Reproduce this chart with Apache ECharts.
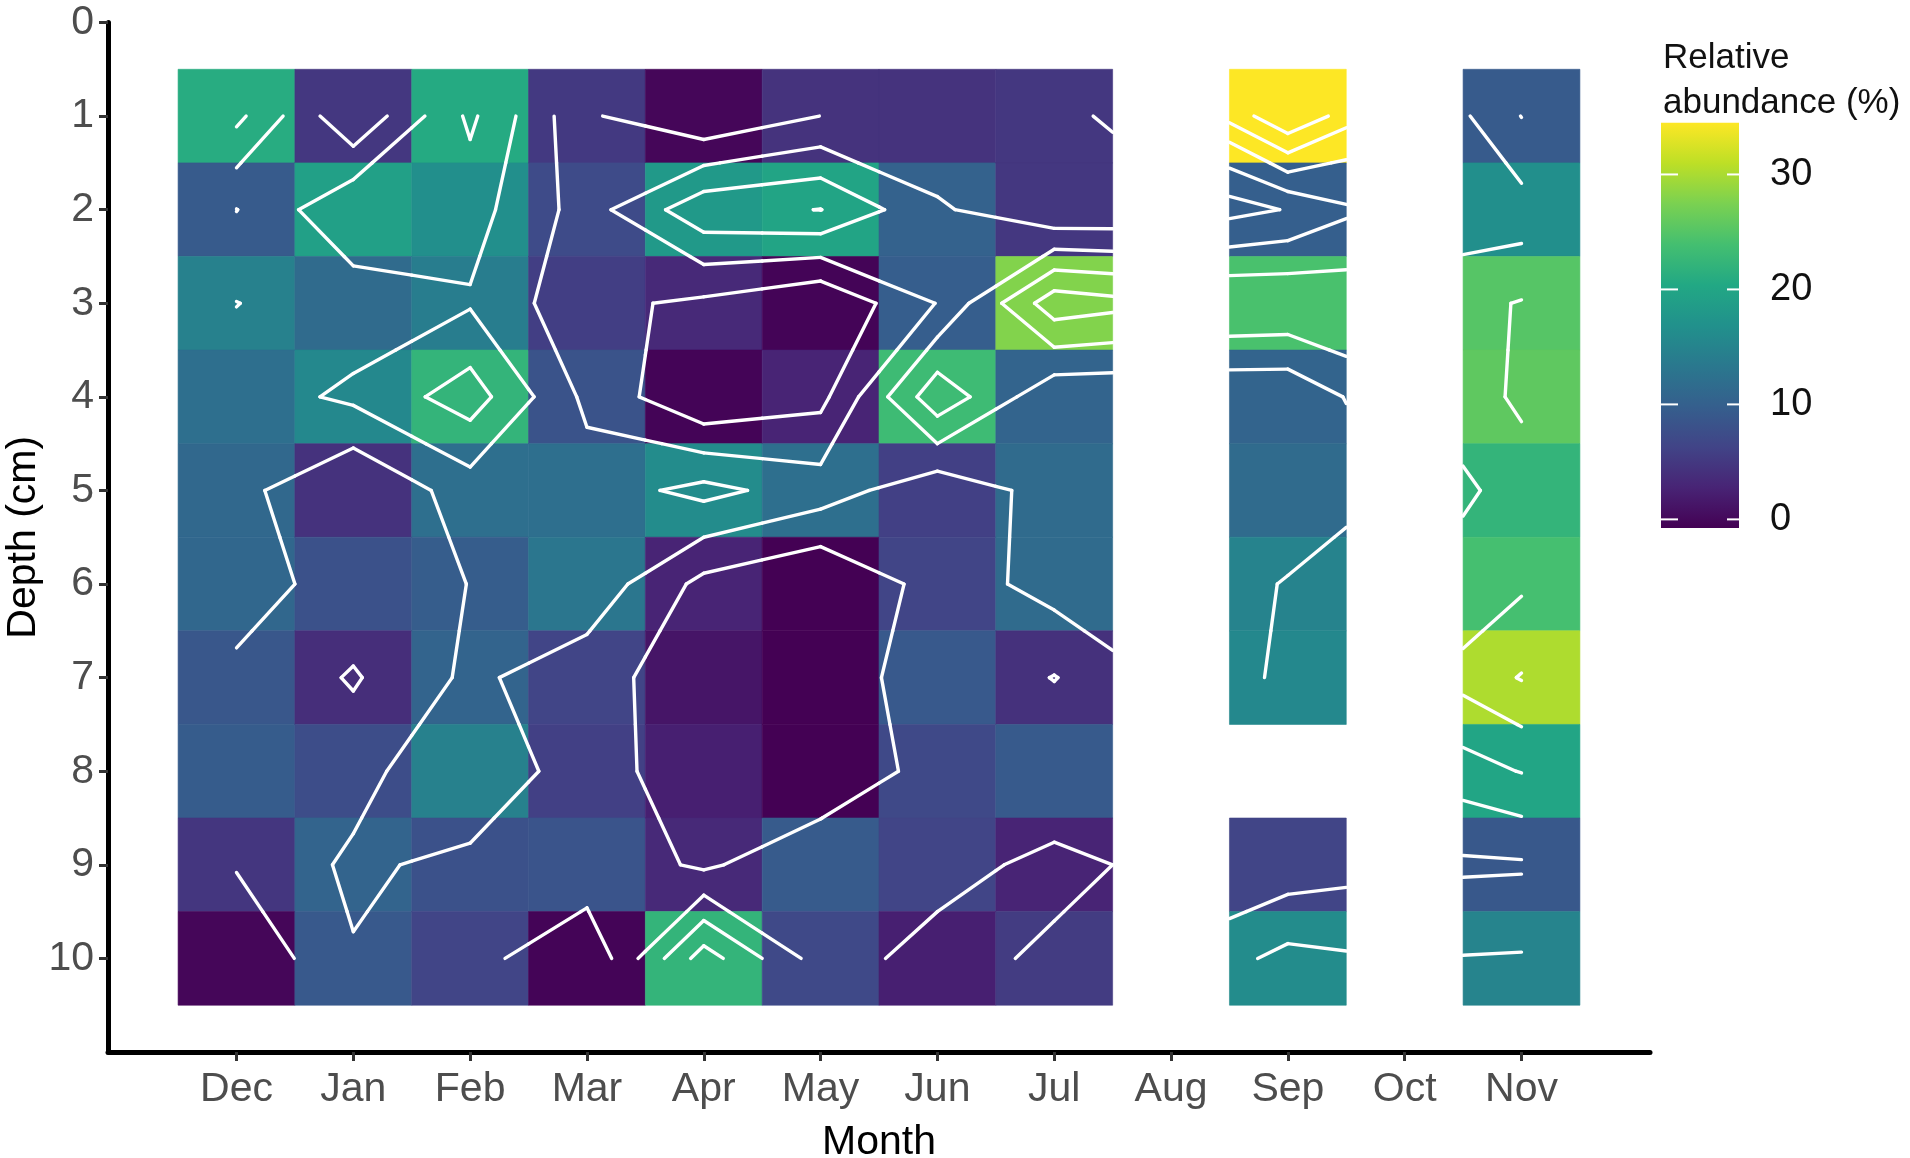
<!DOCTYPE html>
<html><head><meta charset="utf-8">
<script src="https://cdn.jsdelivr.net/npm/echarts@6/dist/echarts.min.js"></script>
<style>html,body{margin:0;padding:0;background:#fff}#chart{width:1910px;height:1158px}</style>
</head><body><div id="chart"></div>
<script>
// ---- data ----
const months = ['Dec','Jan','Feb','Mar','Apr','May','Jun','Jul','Aug','Sep','Oct','Nov'];
const depths = [1,2,3,4,5,6,7,8,9,10];
const depthTicks = [0,1,2,3,4,5,6,7,8,9,10];
// relative abundance (%) per month, depth 1..10 cm
const dec = [21.3, 9.9, 15.1, 12.5, 11.6, 11.5, 9.3, 10, 5.4, 0.5];
const jan = [5.5, 19.5, 12, 16, 5, 8.5, 4.5, 8, 11, 9.6];
const feb = [21, 17, 14.5, 22.5, 12.5, 10.05, 11, 15, 8.5, 7];
const mar = [5.7, 7.8, 6.3, 8.8, 12.5, 13.5, 7, 6.5, 9, 0.3];
const apr = [0.5, 18.5, 4, 0.3, 16.5, 3.5, 2, 3, 4, 22.5];
const may = [5.05, 20.1, 0.3, 3.5, 12.5, 0, 0, 0, 9.8, 7.5];
const jun = [5.05, 10.8, 10.2, 23.5, 6.5, 7, 9.6, 7.5, 7, 3];
const jul = [5.5, 5.5, 28, 11, 12, 12, 4.8, 9.7, 3.5, 6];
const aug = [null, null, null, null, null, null, null, null, null, null];
const sep = [34.5, 10.3, 24.5, 11, 12, 15.3, 16, null, 7, 16.5];
const oct = [null, null, null, null, null, null, null, null, null, null];
const nov = [9.9, 17, 25.3, 25.9, 22.5, 24.2, 30.3, 20.2, 9.4, 15.4];
// values only used by the contour lines (tiles hidden in the figure)
const augContour = [19, 6, 25.3, 11, 12, 12, 11, 9, 6.5, 10.7];
const octContour = [21.5, 17, 22, 19.5, 15.4, 19.5, 23.5, 16, 9, 15];
const contourLevels = [5, 10, 15, 20, 25, 30];
const legendTicks = [0, 10, 20, 30];
const legendMin = -0.75;
const viridis = ['#440154','#482475','#414487','#355f8d','#2a788e','#21918c','#22a884','#44bf70','#7ad151','#bddf26','#fde725'];

// ---- build ----
const tileColumns = [dec, jan, feb, mar, apr, may, jun, jul, aug, sep, oct, nov];
const contourColumns = [dec, jan, feb, mar, apr, may, jun, jul, augContour, sep, octContour, nov];
const heatData = [];
tileColumns.forEach((col, ci) => col.forEach((v, ri) => { if (v != null) heatData.push([ci + 1, depths[ri], v]); }));
const colorMax = Math.max(...heatData.map(d => d[2]));

function lerp(P, Q, v1, v2, L) { const t = (L - v1) / (v2 - v1); return [P[0] + t * (Q[0] - P[0]), P[1] + t * (Q[1] - P[1])]; }
function clipSeg(p, q, xmin, xmax, ymin, ymax) {
  let t0 = 0, t1 = 1; const dx = q[0] - p[0], dy = q[1] - p[1];
  const P = [-dx, dx, -dy, dy], Q = [p[0] - xmin, xmax - p[0], p[1] - ymin, ymax - p[1]];
  for (let i = 0; i < 4; i++) {
    if (P[i] === 0) { if (Q[i] < 0) return null; }
    else { const t = Q[i] / P[i];
      if (P[i] < 0) { if (t > t1) return null; if (t > t0) t0 = t; }
      else { if (t < t0) return null; if (t < t1) t1 = t; } }
  }
  if (t1 - t0 < 1e-9) return null;
  return [p[0] + t0 * dx, p[1] + t0 * dy, p[0] + t1 * dx, p[1] + t1 * dy];
}
const contourData = [];
for (let c = 0; c < contourColumns.length - 1; c++) {
  for (let r = 0; r < depths.length - 1; r++) {
    const va = contourColumns[c][r], vb = contourColumns[c + 1][r], vc = contourColumns[c + 1][r + 1], vd = contourColumns[c][r + 1];
    if ([va, vb, vc, vd].some(v => v == null)) continue;
    const x0 = c + 1, y0 = depths[r], y1 = depths[r + 1];
    const A = [x0, y0], B = [x0 + 1, y0], C = [x0 + 1, y1], D = [x0, y1];
    for (const L of contourLevels) {
      const k = (va >= L ? 8 : 0) | (vb >= L ? 4 : 0) | (vc >= L ? 2 : 0) | (vd >= L ? 1 : 0);
      if (k === 0 || k === 15) continue;
      const E = { T: () => lerp(A, B, va, vb, L), R: () => lerp(B, C, vb, vc, L), Bm: () => lerp(C, D, vc, vd, L), Lf: () => lerp(D, A, vd, va, L) };
      const m = (va + vb + vc + vd) / 4;
      let pairs;
      switch (k) {
        case 1: case 14: pairs = [['Lf', 'Bm']]; break;
        case 2: case 13: pairs = [['Bm', 'R']]; break;
        case 3: case 12: pairs = [['Lf', 'R']]; break;
        case 4: case 11: pairs = [['T', 'R']]; break;
        case 6: case 9: pairs = [['T', 'Bm']]; break;
        case 7: case 8: pairs = [['T', 'Lf']]; break;
        case 5: pairs = m >= L ? [['T', 'Lf'], ['Bm', 'R']] : [['T', 'R'], ['Lf', 'Bm']]; break;
        case 10: pairs = m >= L ? [['T', 'R'], ['Lf', 'Bm']] : [['T', 'Lf'], ['Bm', 'R']]; break;
      }
      for (const [e1, e2] of pairs) {
        const p = E[e1](), q = E[e2]();
        for (let qx = 0; qx < 2; qx++) for (let qy = 0; qy < 2; qy++) {
          if (tileColumns[c + qx][r + qy] == null) continue;
          const xs = x0 + qx * 0.5, ys = y0 + qy * 0.5 * (y1 - y0);
          const piece = clipSeg(p, q, xs, xs + 0.5, ys, ys + 0.5 * (y1 - y0));
          if (piece) contourData.push(piece);
        }
      }
    }
  }
}

const FONT = "'Liberation Sans', Arial, Helvetica, sans-serif";
const chart = echarts.init(document.getElementById('chart'), null, { renderer: 'canvas' });
const gradStops = viridis.slice().reverse().map((c, i, a) => ({ offset: i / (a.length - 1), color: c }));

chart.setOption({
  backgroundColor: '#ffffff',
  animation: false,
  textStyle: { fontFamily: FONT },
  grid: [
    { left: 108, right: 260, top: 22.5, bottom: 106, containLabel: false, outerBoundsMode: 'none' },
    { left: 1661, top: 122.7, width: 78, height: 405.3, containLabel: false, outerBoundsMode: 'none' }
  ],
  visualMap: {
    type: 'continuous', show: false, min: 0, max: colorMax, dimension: 2, seriesIndex: 0,
    inRange: { color: viridis }
  },
  xAxis: [
    {
      type: 'value', gridIndex: 0, min: -0.1, max: 13.1,
      name: 'Month', nameLocation: 'middle', nameGap: 70, nameMoveOverlap: false,
      nameTextStyle: { fontSize: 41, color: '#000', fontFamily: FONT },
      axisLine: { show: true, onZero: false, lineStyle: { color: '#000', width: 5 } },
      axisTick: { show: true, length: 9, lineStyle: { color: '#333', width: 3 }, customValues: months.map((m, i) => i + 1) },
      axisLabel: { customValues: months.map((m, i) => i + 1), formatter: v => months[Math.round(v) - 1] || '', fontSize: 41, color: '#4d4d4d', margin: 17, fontFamily: FONT },
      splitLine: { show: false }
    },
    { type: 'value', gridIndex: 1, min: 0, max: 1, show: false }
  ],
  yAxis: [
    {
      type: 'value', gridIndex: 0, min: 0, max: 11, interval: 1, inverse: true,
      name: 'Depth (cm)', nameLocation: 'middle', nameGap: 64, nameRotate: 90, nameMoveOverlap: false,
      nameTextStyle: { fontSize: 41, color: '#000', fontFamily: FONT },
      axisLine: { show: true, onZero: false, lineStyle: { color: '#000', width: 5 } },
      axisTick: { show: true, length: 9, lineStyle: { color: '#333', width: 3 }, customValues: depthTicks },
      axisLabel: { customValues: depthTicks, fontSize: 41, color: '#4d4d4d', margin: 14, fontFamily: FONT },
      splitLine: { show: false }
    },
    {
      type: 'value', gridIndex: 1, min: legendMin, max: colorMax, position: 'right',
      axisLine: { show: false }, axisTick: { show: false }, splitLine: { show: false },
      axisLabel: { customValues: legendTicks, fontSize: 38, color: '#111', margin: 31, fontFamily: FONT }
    }
  ],
  graphic: [
    { type: 'text', left: 1663, top: 36, style: { text: 'Relative\nabundance (%)', font: `35px ${FONT}`, fill: '#111', lineHeight: 45 } }
  ],
  series: [
    {
      type: 'custom', name: 'tiles', xAxisIndex: 0, yAxisIndex: 0,
      dimensions: ['month', 'depth', 'value'], encode: { x: 0, y: 1 },
      data: heatData,
      renderItem: (params, api) => {
        const x = api.value(0), y = api.value(1);
        const p0 = api.coord([x - 0.5, y - 0.5]), p1 = api.coord([x + 0.5, y + 0.5]);
        const col = api.visual('color');
        return { type: 'rect', shape: { x: Math.min(p0[0], p1[0]), y: Math.min(p0[1], p1[1]), width: Math.abs(p1[0] - p0[0]), height: Math.abs(p1[1] - p0[1]) },
          style: { fill: col, stroke: col, lineWidth: 0.6 } };
      }
    },
    {
      type: 'custom', name: 'contours', xAxisIndex: 0, yAxisIndex: 0,
      dimensions: ['x1', 'y1', 'x2', 'y2'], encode: { x: [0, 2], y: [1, 3] },
      data: contourData, z: 5,
      renderItem: (params, api) => {
        const p = api.coord([api.value(0), api.value(1)]), q = api.coord([api.value(2), api.value(3)]);
        return { type: 'line', shape: { x1: p[0], y1: p[1], x2: q[0], y2: q[1] }, style: { stroke: '#ffffff', lineWidth: 3.4, lineCap: 'round' } };
      }
    },
    {
      type: 'custom', name: 'colorbar', xAxisIndex: 1, yAxisIndex: 1,
      dimensions: ['lo', 'hi'], encode: { y: [0, 1] },
      data: [[legendMin, colorMax]],
      renderItem: (params, api) => {
        const top = api.coord([0, api.value(1)]), bot = api.coord([1, api.value(0)]);
        return { type: 'rect', shape: { x: top[0], y: top[1], width: bot[0] - top[0], height: bot[1] - top[1] },
          style: { fill: new echarts.graphic.LinearGradient(0, 0, 0, 1, gradStops) } };
      }
    },
    {
      type: 'custom', name: 'colorbarTicks', xAxisIndex: 1, yAxisIndex: 1,
      dimensions: ['v'], encode: { y: 0 }, z: 6,
      data: legendTicks.map(v => [v]),
      renderItem: (params, api) => {
        const l = api.coord([0, api.value(0)]), r = api.coord([1, api.value(0)]);
        return { type: 'group', children: [
          { type: 'line', shape: { x1: l[0], y1: l[1], x2: l[0] + 17, y2: l[1] }, style: { stroke: '#fff', lineWidth: 2 } },
          { type: 'line', shape: { x1: r[0] - 12, y1: r[1], x2: r[0], y2: r[1] }, style: { stroke: '#fff', lineWidth: 2 } }
        ] };
      }
    }
  ]
});
</script></body></html>
